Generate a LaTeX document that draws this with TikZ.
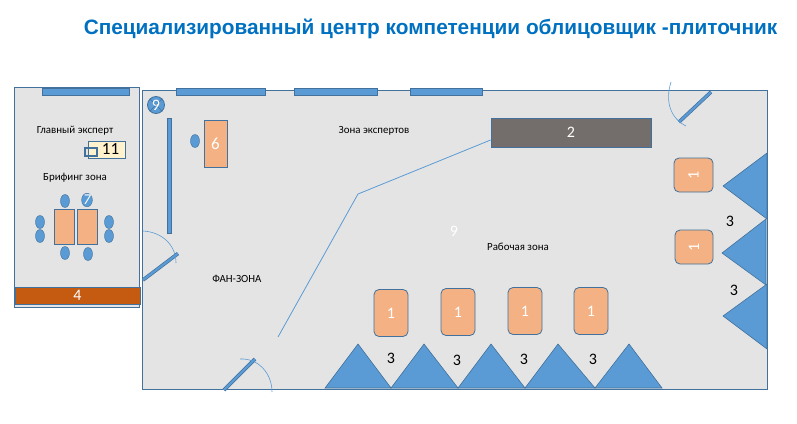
\documentclass[tikz,border=0pt]{standalone}
\usepackage{fontspec}
\setmainfont{Carlito}
\newfontfamily\titlefont{Liberation Sans}
\usepackage{tikz}
\usetikzlibrary{calc,positioning,shapes.geometric,shapes.misc}
\definecolor{edgeBlue}{HTML}{41719C}
\definecolor{fillBlue}{HTML}{5B9BD5}
\definecolor{roomGray}{HTML}{E4E4E4}
\definecolor{deskOrange}{HTML}{F4B183}
\definecolor{bandOrange}{HTML}{C55A11}
\definecolor{stoneGray}{HTML}{736E6C}
\definecolor{noteYellow}{HTML}{FFF2CC}
\definecolor{titleBlue}{HTML}{0070C0}

\begin{document}
\begin{tikzpicture}
		[x=1pt, y=-1pt, font=\fontsize{10.9}{12}\selectfont,
		% STYLES
		% The room style is used for the two grey rooms
		room/.style={draw=edgeBlue, fill=roomGray, line width=0.8pt},
		% windows and walls
		wall/.style={draw=edgeBlue, fill=fillBlue, line width=0.7pt},
		% The desk style
		desk/.style={rectangle, draw=edgeBlue, fill=deskOrange, line width=0.8pt, inner sep=0pt, text=white, font=\fontsize{17}{19}\selectfont},
		% work places
		workDesk/.style={desk, rounded corners=5pt, font=\fontsize{16}{18}\selectfont},
		% chairs
		chair/.style={ellipse, draw=edgeBlue, fill=fillBlue, inner sep=0pt, minimum width=9pt, minimum height=13pt},
		% doors
		door/.style={draw=edgeBlue, line width=3.6pt},
		doorIn/.style={draw=fillBlue, line width=2.2pt},
		swing/.style={draw=fillBlue, line width=0.6pt},
		% materials
		stack/.style={draw=edgeBlue, fill=fillBlue, line width=0.6pt},
		% labels
		zone/.style={inner sep=0pt, text=black},
		number/.style={inner sep=0pt, font=\fontsize{16}{18}\selectfont}]
		\useasboundingbox (0,0) rectangle (797,423);

		\node [zone, text=titleBlue, font=\titlefont\bfseries\fontsize{20.8}{24}\selectfont] (title) at (430.5,29) {Специализированный центр компетенции облицовщик -плиточник};

		% Draw rooms
		\draw [room] (14,87) rectangle (139,307);
		\draw [room] (142,90) rectangle (767,389);

		% Left room
		\draw [wall] (42,88) rectangle (129,95);
		\node [rectangle, draw=edgeBlue, fill=bandOrange, line width=0.8pt, inner sep=0pt, minimum width=125pt, minimum height=17pt, text=white, font=\fontsize{16}{18}\selectfont] (band4) at (77.5,295.5) {4};
		\node [zone] (chief) at (75,131) {Главный эксперт};
		\node [rectangle, draw=edgeBlue, fill=noteYellow, line width=0.8pt, inner sep=0pt, minimum width=37pt, minimum height=17pt, font=\fontsize{17}{19}\selectfont] (desk11) at (106.5,149.5) {\hspace{8pt}11};
		\draw [draw=edgeBlue, line width=1.2pt] (85,148) rectangle (97,156);
		\node [zone] (briefing) at (75,178) {Брифинг зона};
		\node [desk, minimum width=20pt, minimum height=35pt] (table1) at (64.5,226.5) {};
		\node [desk, minimum width=20pt, minimum height=35pt] (table2) at (87.5,226.5) {};
		\node [chair] (c1) at (65,201) {};
		\node [chair, text=white, font=\fontsize{15}{17}\selectfont\itshape] (c2) at (87,200) {7};
		\node [chair] (c3) at (40,222) {};
		\node [chair] (c4) at (40,236) {};
		\node [chair] (c5) at (109,222) {};
		\node [chair] (c6) at (109,236) {};
		\node [chair] (c7) at (65,253) {};
		\node [chair] (c8) at (88,254) {};

		% Main room
		\foreach \xa/\xb in {176/265, 294/377, 410/482}
			\draw [wall] (\xa,88) rectangle (\xb,95);
		\draw [wall] (167.5,118) rectangle (171.5,233);
		\node [circle, draw=edgeBlue, fill=fillBlue, line width=0.8pt, minimum size=17pt, inner sep=0pt] (info9) at (156,105) {};
		\draw [edgeBlue, line width=0.5pt] (info9.45) -- (info9.225) (info9.135) -- (info9.315);
		\node [text=white, inner sep=0pt, font=\fontsize{16}{18}\selectfont] (info9text) at (info9) {9};
		\node [desk, minimum width=23pt, minimum height=47pt] (desk6) at (215.5,143.5) {6};
		\node [chair] (c9) at (195,141) {};
		\node [rectangle, draw=edgeBlue, fill=stoneGray, line width=0.8pt, inner sep=0pt, minimum width=160pt, minimum height=29pt, text=white, font=\fontsize{16}{18}\selectfont] (block2) at (571,132.5) {2};

		% zone border
		\coordinate (b0) at (278,337);
		\coordinate (b1) at (358,194);
		\draw [swing, line width=0.8pt] (b0) -- (b1) -- (block2.west |- 0,140);

		\node [zone] (experts) at (374,131) {Зона экспертов};
		\node [zone] (work) at (518,247) {Рабочая зона};
		\node [zone] (fans) at (237,279) {ФАН-ЗОНА};
		\node [number, text=white] (nine) at (454,231) {9};

		% Doors
		\draw [door] (143,280) -- (178,253.5);
		\draw [doorIn] (143,280) -- (178,253.5);
		\draw [swing] (143,231) .. controls (162,232) and (176,245) .. (176,263);
		\draw [door] (224,390) -- (255,359);
		\draw [doorIn] (224,390) -- (255,359);
		\draw [swing] (240,359) .. controls (258,358) and (272,373) .. (272,392);
		\draw [door] (679,122) -- (711,92);
		\draw [doorIn] (679,122) -- (711,92);
		\draw [swing] (671,82) .. controls (665,101) and (670,118) .. (686,126);

		% Work places
		\foreach \name/\cx/\cy in {w1/391/313, w2/458/312, w3/525/311, w4/591/311}
			\node [workDesk, minimum width=34pt, minimum height=47pt] (\name) at (\cx,\cy) {1};
		\node [workDesk, minimum width=39pt, minimum height=34pt] (w5) at (693.5,175) {\rotatebox{90}{1}};
		\node [workDesk, minimum width=38pt, minimum height=34pt] (w6) at (694,247) {\rotatebox{90}{1}};

		% Material stacks
		\foreach \xa/\xb/\xc in {325/358/391, 391/424/458, 458/491/525, 525/558/595, 595/629/662}
			\draw [stack] (\xa,388) -- (\xb,344) -- (\xc,388) -- cycle;
		\draw [stack] (767,153) -- (723,186) -- (767,219) -- cycle;
		\draw [stack] (766,219) -- (722,253) -- (766,285) -- cycle;
		\draw [stack] (767,284) -- (723,316) -- (767,349) -- cycle;

		\foreach \name/\cx/\cy in {s1/391/358, s2/457/360, s3/524/359, s4/593/359, s5/730/221, s6/734/290}
			\node [number] (\name) at (\cx,\cy) {3};
\end{tikzpicture}
\end{document}
